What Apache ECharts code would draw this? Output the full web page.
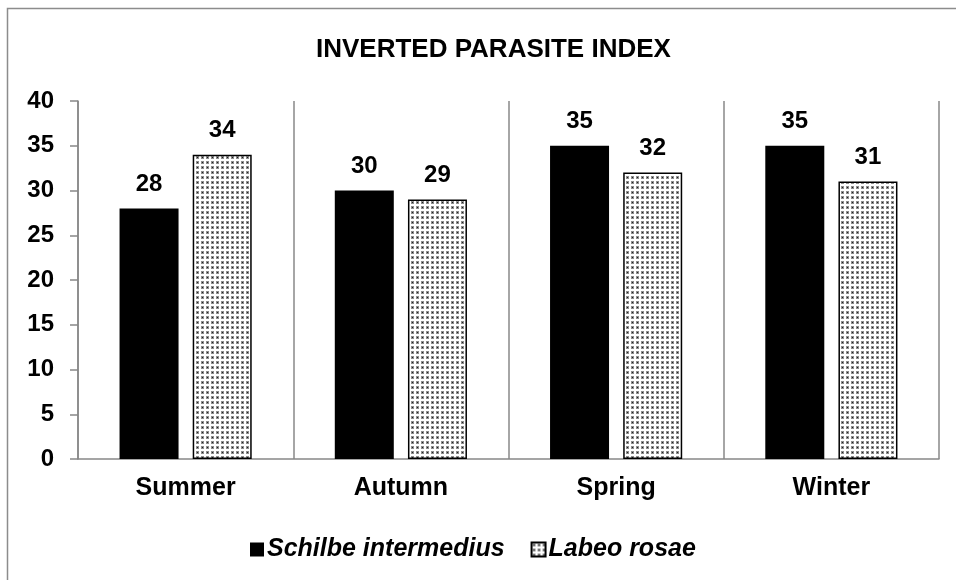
<!DOCTYPE html>
<html>
<head>
    <meta charset="utf-8">
    <title>Inverted Parasite Index</title>
    <script type="text/javascript" src="https://cdn.jsdelivr.net/npm/echarts@6/dist/echarts.min.js"></script>
    <style>
        html, body { margin: 0; padding: 0; background: #fff; }
    </style>
</head>
<body>
    <div id="main" style="width: 956px;height:580px;"></div>
    <script type="text/javascript">
        // data
        var seasons = ['Summer', 'Autumn', 'Spring', 'Winter'];
        var schilbe = [28, 30, 35, 35];
        var labeo = [34, 29, 32, 31];
        var seriesNames = ['Schilbe intermedius', 'Labeo rosae'];
        var yTicks = { min: 0, max: 40, step: 5 };

        // dotted fill for the second series
        function dots() {
            var c = document.createElement('canvas');
            c.width = 5; c.height = 5;
            var g = c.getContext('2d');
            g.fillStyle = '#ffffff';
            g.fillRect(0, 0, 5, 5);
            g.fillStyle = '#8e8e8e';
            g.fillRect(1, 1, 3, 3);
            g.fillStyle = '#222222';
            g.fillRect(2, 2, 1, 1);
            return c;
        }

        var font = '"Liberation Sans", Arial, sans-serif';
        var myChart = echarts.init(document.getElementById('main'));

        var option = {
            animation: false,
            textStyle: { fontFamily: font },
            title: {
                text: 'INVERTED PARASITE INDEX',
                left: 311,
                top: 32,
                textStyle: { fontFamily: font, fontSize: 26, fontWeight: 'bold', color: '#000' }
            },
            graphic: [{
                type: 'rect',
                shape: { x: 7.5, y: 8.5, width: 1000, height: 1000 },
                style: { fill: 'none', stroke: '#8c8c8c', lineWidth: 1.5 },
                silent: true
            }],
            legend: {
                left: 245,
                top: 532,
                icon: 'rect',
                itemWidth: 14,
                itemHeight: 14,
                itemGap: 26,
                textStyle: { fontFamily: font, fontSize: 25, fontWeight: 'bold', fontStyle: 'italic', color: '#000', padding: [0, 0, 0, -2] },
                data: seriesNames
            },
            grid: { left: 78, right: 17, top: 101, bottom: 121 },
            xAxis: {
                type: 'category',
                data: seasons,
                axisLine: { lineStyle: { color: '#888', width: 1.5 } },
                axisTick: { show: false },
                splitLine: { show: true, lineStyle: { color: '#888', width: 1.5 } },
                axisLabel: { margin: 17, fontSize: 25, fontWeight: 'bold', color: '#000', fontFamily: font }
            },
            yAxis: {
                type: 'value',
                min: yTicks.min,
                max: yTicks.max,
                interval: yTicks.step,
                axisLine: { show: true, lineStyle: { color: '#888', width: 1.5 } },
                axisTick: { show: true, length: 8, lineStyle: { color: '#888', width: 1.5 } },
                splitLine: { show: false },
                axisLabel: { margin: 24, fontSize: 24, fontWeight: 'bold', color: '#000', fontFamily: font }
            },
            series: [{
                name: seriesNames[0],
                type: 'bar',
                data: schilbe,
                barWidth: 59,
                barGap: '24%',
                itemStyle: { color: '#000' },
                label: { show: true, position: 'top', distance: 12, fontSize: 24, fontWeight: 'bold', color: '#000', fontFamily: font }
            }, {
                name: seriesNames[1],
                type: 'bar',
                data: labeo,
                barWidth: 59,
                itemStyle: {
                    color: { image: dots(), repeat: 'repeat' },
                    borderColor: '#000',
                    borderWidth: 1.5
                },
                label: { show: true, position: 'top', distance: 12, fontSize: 24, fontWeight: 'bold', color: '#000', fontFamily: font }
            }]
        };
        myChart.setOption(option);
    </script>
</body>
</html>
